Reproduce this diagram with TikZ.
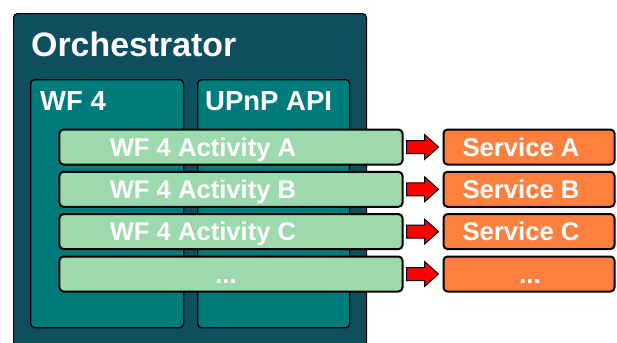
\documentclass[tikz,border=0pt]{standalone}
\usepackage{fontspec}
\setmainfont{Liberation Sans}
\usepackage{tikz}
\usetikzlibrary{positioning}
\usetikzlibrary{calc}

\definecolor{orchblue}{HTML}{0F4E5E}
\definecolor{wfteal}{HTML}{007B7B}
\definecolor{actgreen}{HTML}{9CD9AD}
\definecolor{srvorange}{HTML}{FF7F3F}

%block arrow from an activity to its service
\newcommand{\blkarrow}[2]{\path[blk] ($(#1.east)+(3,6.5)$) -- ($(#1.east)+(21,6.5)$) -- ($(#1.east)+(21,12.5)$) -- ($(#2.west)+(-4,0)$) -- ($(#1.east)+(21,-12.5)$) -- ($(#1.east)+(21,-6.5)$) -- ($(#1.east)+(3,-6.5)$) -- cycle;}

\begin{document}
\begin{tikzpicture}[x=1bp, y=-1bp,
 box/.style={draw=black, line width=1.3bp, rounded corners=4bp, anchor=north west, inner sep=0pt},
 act/.style={draw=black, line width=2bp, fill=actgreen, rounded corners=4bp, minimum width=343bp, minimum height=35bp, inner sep=0pt},
 srv/.style={act, fill=srvorange, minimum width=171bp},
 lbl/.style={text=white, font=\bfseries\fontsize{25.7}{30}\selectfont, anchor=base, inner sep=0pt},
 head/.style={lbl, anchor=base west, font=\bfseries\fontsize{27.6}{32}\selectfont},
 blk/.style={draw=black, fill=red, line width=1bp}]
 \useasboundingbox (0,0) rectangle (617,342);

 %orchestrator
 \node[box, fill=orchblue, line width=1bp, minimum width=353bp, minimum height=360bp] (orch) at (13,13) {};
 \node[head, font=\bfseries\fontsize{34}{40}\selectfont] (orchT) at (31,56) {Orchestrator};

 %wf 4 and upnp
 \node[box, fill=wfteal, minimum width=153bp, minimum height=248bp] (wf) at (30,79) {};
 \node[box, fill=wfteal, minimum width=152bp, minimum height=248bp] (upnp) at (197,79) {};
 \node[head] (wfT) at (40,110) {WF 4};
 \node[head] (upnpT) at (205,110) {UPnP API};

 %activities
 \node[act] (actA) at (231,147) {};
 \node[act] (actB) at (231,189.3) {};
 \node[act] (actC) at (231,231.6) {};
 \node[act] (actD) at (231,274) {};
 \node[lbl] (actAT) at (203,156.2) {WF 4 Activity A};
 \node[lbl] (actBT) at (203,198.5) {WF 4 Activity B};
 \node[lbl] (actCT) at (203,240.8) {WF 4 Activity C};
 \node[lbl] (actDT) at (226,283.2) {...};

 %services
 \node[srv] (srvA) at (529,147) {};
 \node[srv] (srvB) at (529,189.3) {};
 \node[srv] (srvC) at (529,231.6) {};
 \node[srv] (srvD) at (529,274) {};
 \node[lbl] (srvAT) at (521,156.2) {Service A};
 \node[lbl] (srvBT) at (521,198.5) {Service B};
 \node[lbl] (srvCT) at (521,240.8) {Service C};
 \node[lbl] (srvDT) at (530,283.2) {...};

 %arrows
 \blkarrow{actA}{srvA}
 \blkarrow{actB}{srvB}
 \blkarrow{actC}{srvC}
 \blkarrow{actD}{srvD}

\end{tikzpicture}
\end{document}
